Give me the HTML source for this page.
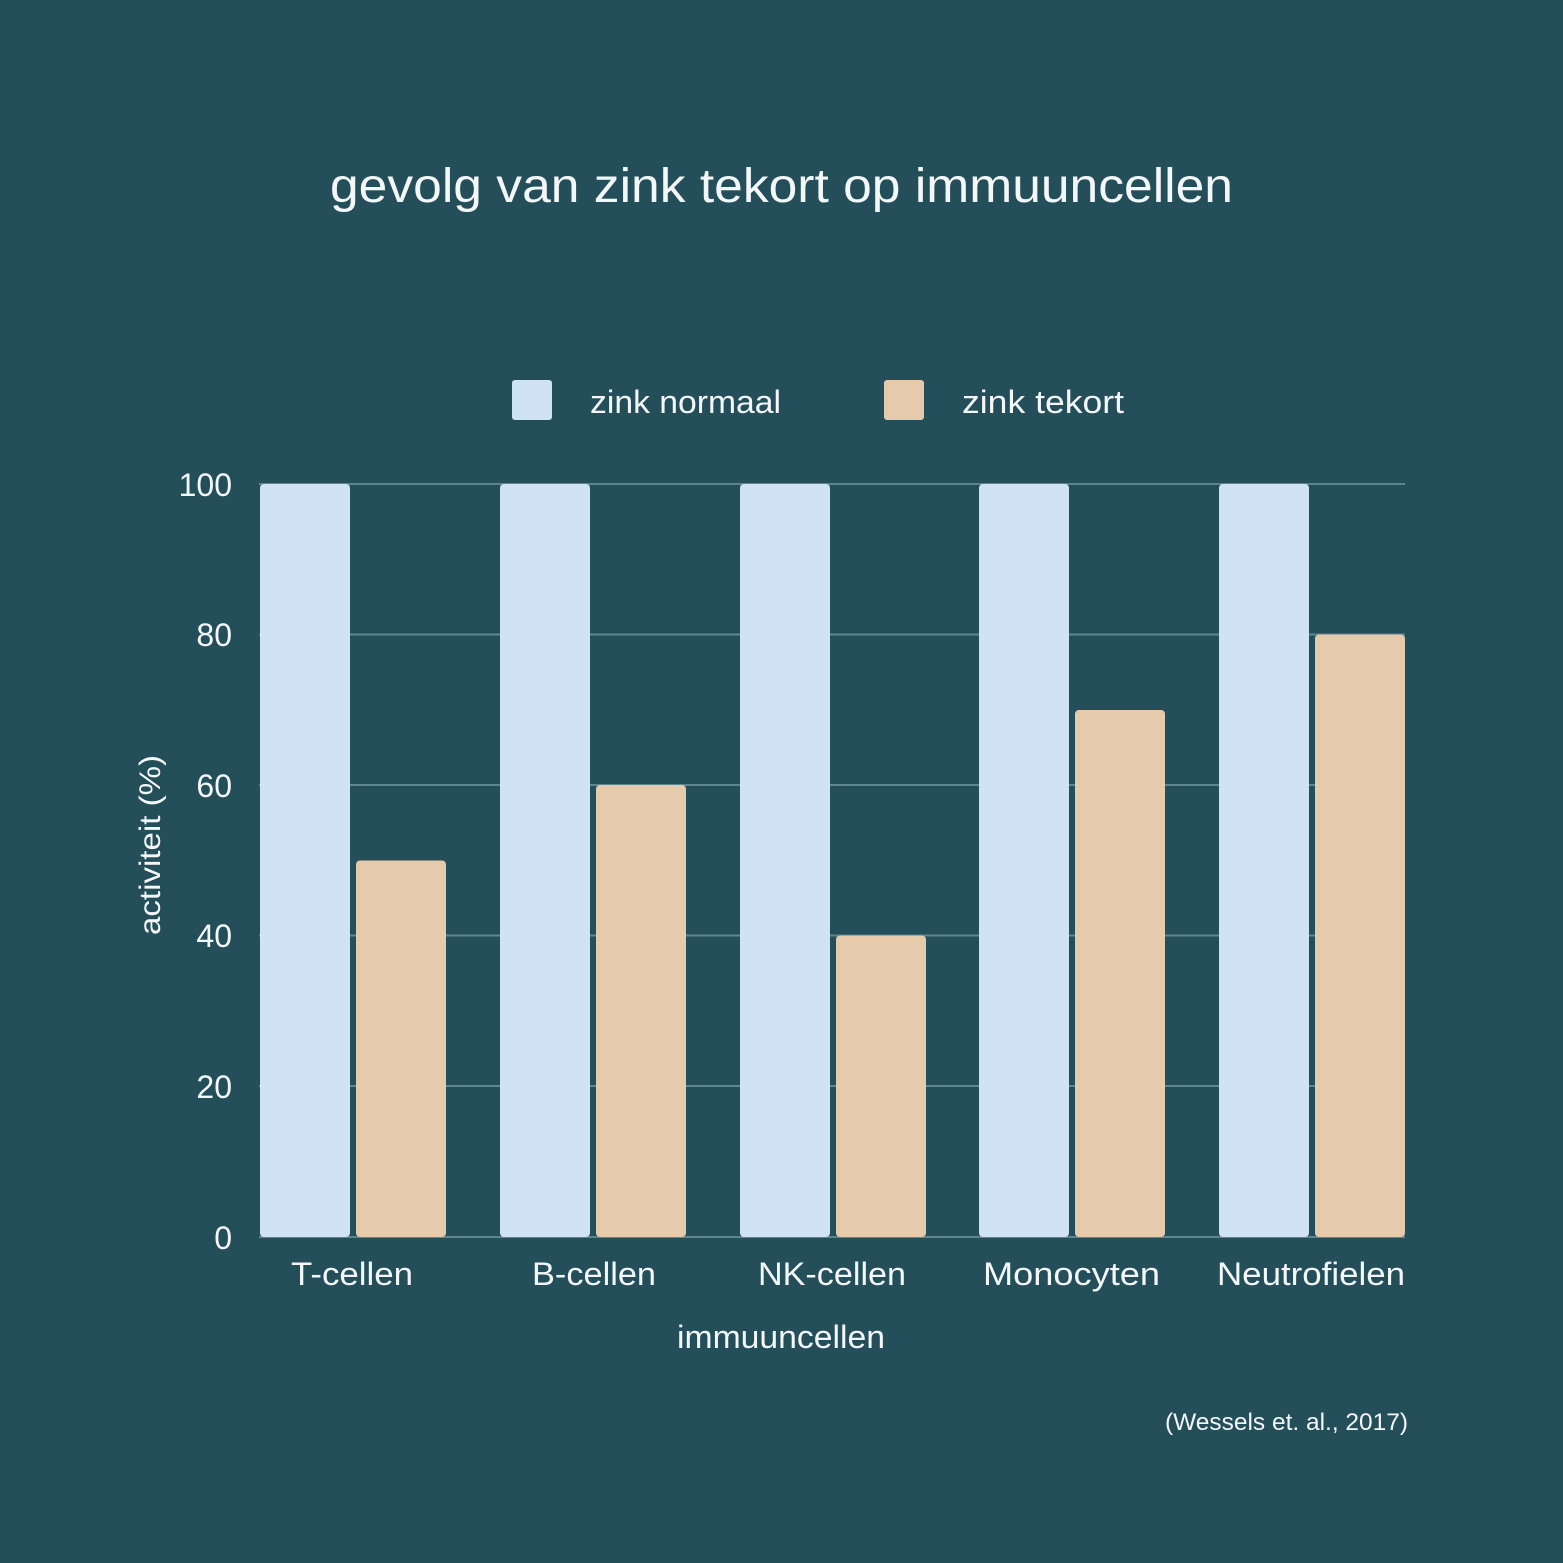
<!DOCTYPE html>
<html><head><style>
html,body{margin:0;padding:0;background:#244e59;}
svg{display:block;}
text{font-family:"Liberation Sans",sans-serif;fill:#f4f7f8;}
</style></head><body>
<svg width="1563" height="1563" viewBox="0 0 1563 1563" xmlns="http://www.w3.org/2000/svg">
<rect width="1563" height="1563" fill="#244e59"/>
<text x="330" y="202" font-size="48" textLength="903" lengthAdjust="spacingAndGlyphs">gevolg van zink tekort op immuuncellen</text>
<rect x="512" y="380" width="40" height="40" rx="3" fill="#cfe3f4"/>
<text x="590" y="413" font-size="32" textLength="191" lengthAdjust="spacingAndGlyphs">zink normaal</text>
<rect x="884" y="380" width="40" height="40" rx="3" fill="#e5caab"/>
<text x="962" y="413" font-size="32" textLength="162" lengthAdjust="spacingAndGlyphs">zink tekort</text>
<g stroke="#5e8690" stroke-width="2">
<line x1="259" y1="484" x2="1405" y2="484"/>
<line x1="259" y1="634.5" x2="1405" y2="634.5"/>
<line x1="259" y1="785" x2="1405" y2="785"/>
<line x1="259" y1="935.5" x2="1405" y2="935.5"/>
<line x1="259" y1="1086" x2="1405" y2="1086"/>
<line x1="259" y1="1237" x2="1405" y2="1237"/>
</g>
<g font-size="32" text-anchor="end">
<text x="232" y="496">100</text>
<text x="232" y="646">80</text>
<text x="232" y="797">60</text>
<text x="232" y="947">40</text>
<text x="232" y="1098">20</text>
<text x="232" y="1249">0</text>
</g>
<text transform="translate(160,935) rotate(-90)" font-size="30" textLength="180" lengthAdjust="spacingAndGlyphs">activiteit (%)</text>
<g fill="#cfe3f4">
<rect x="260" y="484" width="90" height="753" rx="4"/>
<rect x="500" y="484" width="90" height="753" rx="4"/>
<rect x="740" y="484" width="90" height="753" rx="4"/>
<rect x="979" y="484" width="90" height="753" rx="4"/>
<rect x="1219" y="484" width="90" height="753" rx="4"/>
</g>
<g fill="#e5caab">
<rect x="356" y="860.5" width="90" height="376.5" rx="4"/>
<rect x="596" y="785" width="90" height="452" rx="4"/>
<rect x="836" y="935.5" width="90" height="301.5" rx="4"/>
<rect x="1075" y="710" width="90" height="527" rx="4"/>
<rect x="1315" y="634.5" width="90" height="602.5" rx="4"/>
</g>
<g font-size="32">
<text x="291" y="1285" textLength="122" lengthAdjust="spacingAndGlyphs">T-cellen</text>
<text x="532" y="1285" textLength="124" lengthAdjust="spacingAndGlyphs">B-cellen</text>
<text x="758" y="1285" textLength="148" lengthAdjust="spacingAndGlyphs">NK-cellen</text>
<text x="983" y="1285" textLength="177" lengthAdjust="spacingAndGlyphs">Monocyten</text>
<text x="1217" y="1285" textLength="188" lengthAdjust="spacingAndGlyphs">Neutrofielen</text>
</g>
<text x="677" y="1348" font-size="32" textLength="208" lengthAdjust="spacingAndGlyphs">immuuncellen</text>
<text x="1165" y="1430" font-size="24" textLength="243" lengthAdjust="spacingAndGlyphs">(Wessels et. al., 2017)</text>
</svg>
</body></html>
